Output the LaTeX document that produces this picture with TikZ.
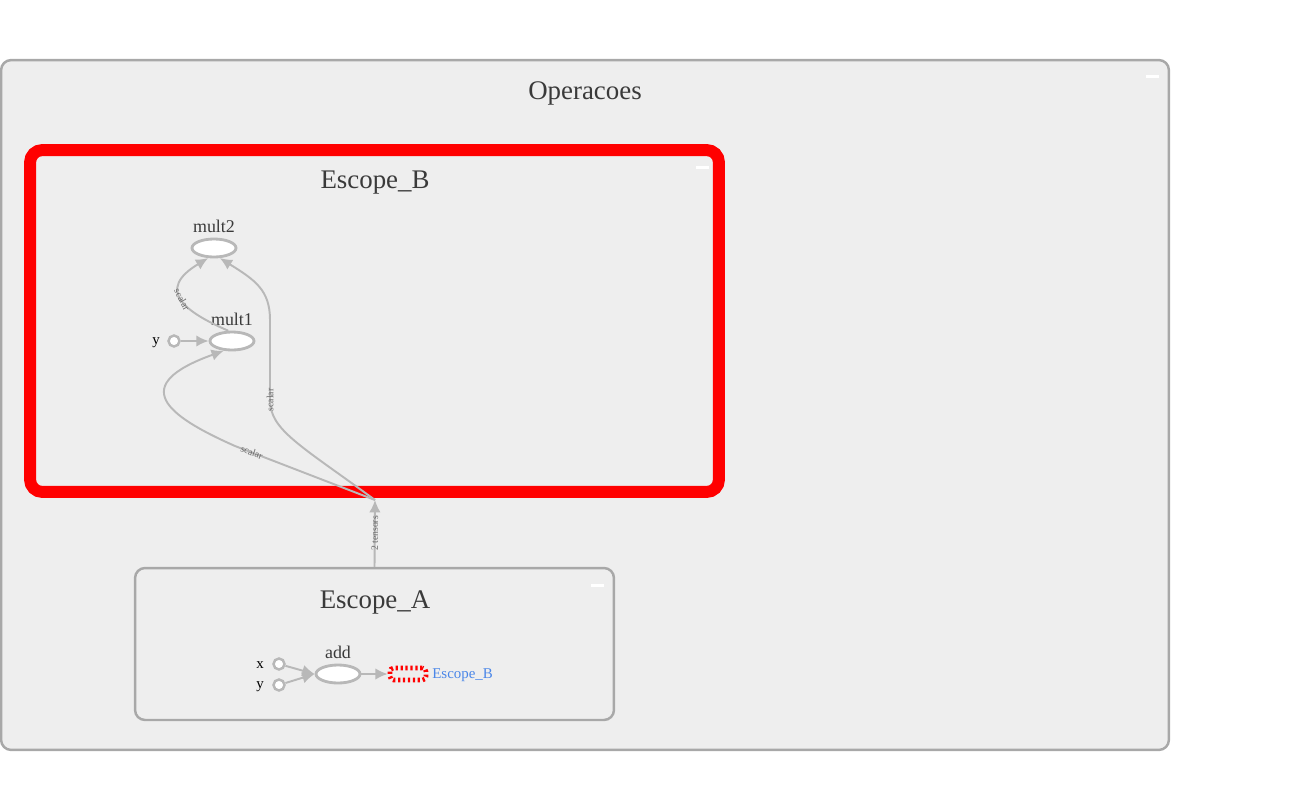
\documentclass[tikz,border=0pt]{standalone}
\usepackage{fontspec}
\setmainfont{Liberation Serif}
\usetikzlibrary{arrows.meta, shapes.geometric}

\definecolor{fundo}{HTML}{EEEEEE}
\definecolor{borda}{HTML}{A8A8A8}
\definecolor{aresta}{HTML}{B8B8B8}
\definecolor{texto}{HTML}{3A3A3A}
\definecolor{azul}{HTML}{4A86E8}

\begin{document}
\begin{tikzpicture}[
    x=0.02cm, y=-0.02cm,
    grupo/.style={rectangle, rounded corners=5.7pt, draw=borda, fill=fundo,
        line width=1.4pt, inner sep=0},
    titulo/.style={text=texto, font=\fontsize{15.3}{18}\selectfont},
    menos/.style={rectangle, fill=white, minimum width=0.26cm,
        minimum height=0.06cm, inner sep=0},
    op/.style={ellipse, draw=aresta, fill=white, line width=1.6pt,
        minimum width=0.88cm, minimum height=0.36cm, inner sep=0},
    rotulo/.style={text=texto, font=\fontsize{10.2}{12}\selectfont},
    entrada/.style={circle, draw=aresta, fill=white, line width=1.4pt,
        minimum size=0.22cm, inner sep=0},
    letra/.style={font=\fontsize{8.5}{10}\selectfont},
    seta/.style={draw=aresta, line width=1.1pt,
        -{Latex[length=7pt, width=6.5pt]}},
    kant/.style={font=\fontsize{5.5}{6}\selectfont, text=black!60,
        sloped, inner sep=1pt}
    ]

\useasboundingbox (0,0) rectangle (1290,811);

% Operacoes
\node[grupo, minimum width=23.36cm, minimum height=13.8cm] (operacoes) at (585,405) {};
\node[titulo] (t-operacoes) at (585,93) {Operacoes};
\node[menos] (m-operacoes) at (1152,77) {};

% Escope_B
\node[grupo, draw=red, line width=6.8pt, rounded corners=7pt,
      minimum width=13.78cm, minimum height=6.84cm] (escB) at (374.5,321) {};
\node[titulo] (t-escB) at (375,183) {Escope\_B};
\node[menos] (m-escB) at (702,167) {};

\node[op] (mult2) at (214,248) {};
\node[rotulo] (l-mult2) at (214,226) {mult2};
\node[op] (mult1) at (232,341) {};
\node[rotulo] (l-mult1) at (232,319) {mult1};
\node[entrada] (yB) at (174,341) {};
\node[letra, anchor=east] (l-yB) at (166,343) {y};

% Escope_A
\node[grupo, minimum width=9.58cm, minimum height=3.04cm] (escA) at (374.5,644) {};
\node[titulo] (t-escA) at (375,602) {Escope\_A};
\node[menos] (m-escA) at (597,585) {};

\node[op] (add) at (338,674) {};
\node[rotulo] (l-add) at (338,652) {add};
\node[entrada] (xA) at (279,664) {};
\node[letra, anchor=east] (l-xA) at (270,665) {x};
\node[entrada] (yA) at (279,685) {};
\node[letra, anchor=east] (l-yA) at (270,687) {y};
\node[rectangle, rounded corners=2pt, draw=red, line width=2.6pt,
      dash pattern=on 1.3pt off 1.5pt, minimum width=0.72cm,
      minimum height=0.24cm, inner sep=0] (ponte) at (408,674) {};
\node[anchor=west, text=azul, font=\fontsize{8.5}{10}\selectfont, inner sep=0]
      (l-ponte) at (432,675) {Escope\_B};

\coordinate (hub) at (375,500);

% edges
\draw[seta] (yB) -- (mult1);
\draw[seta] (mult1.110) .. controls (185,312) and (155,290)
    .. node[kant, pos=.5] {scalar} (mult2.-120);
\draw[seta] (hub) -- node[kant, pos=.88] {scalar} (235,446)
    .. controls (165,415) and (128,385) .. (mult1.-130);
\draw[seta] (hub) .. controls (300,445) and (270,430) .. (270,400)
    -- node[kant, pos=0] {scalar} (270,320)
    .. controls (270,290) and (255,280) .. (mult2.-60);
\draw[seta] (escA.north) -- node[kant] {2 tensors} (hub);

\draw[seta] (xA) -- (add.west);
\draw[seta] (yA) -- (add.west);
\draw[seta] (add) -- (ponte);

\end{tikzpicture}
\end{document}
